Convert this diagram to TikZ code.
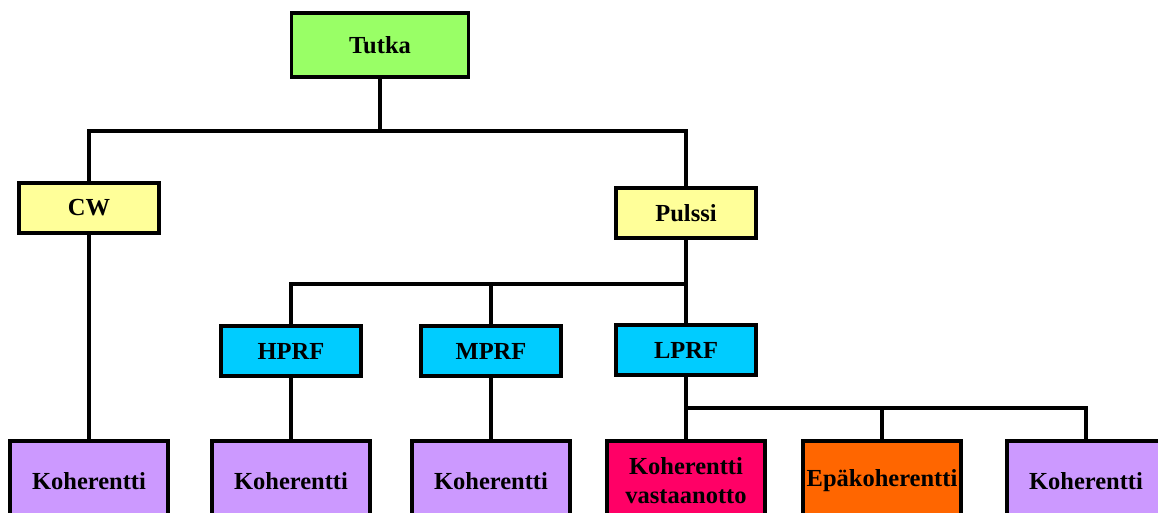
\documentclass[tikz,border=0pt]{standalone}
\usepackage{fontspec}
\setmainfont{Liberation Serif}
\usepackage{tikz}
\usetikzlibrary{positioning}

\definecolor{tutkagreen}{HTML}{99FF66}
\definecolor{lightyellow}{HTML}{FFFF99}
\definecolor{prfcyan}{HTML}{00CCFF}
\definecolor{lilac}{HTML}{CC99FF}
\definecolor{hotpink}{HTML}{FF0066}
\definecolor{deeporange}{HTML}{FF6600}

\begin{document}
\begin{tikzpicture}[x=1pt,y=-1pt, line width=3.5pt, box/.style={draw,align=center,inner sep=0pt,minimum width=140pt,minimum height=50pt,font=\fontsize{24.5}{29}\selectfont\bfseries}, leaf/.style={box,fill=lilac,minimum width=158pt,minimum height=80pt}, link/.style={draw,line width=3.5pt}]
\useasboundingbox (0,0) rectangle (1158,512);
\clip (0,0) rectangle (1158,512);
\node[box,fill=tutkagreen,minimum width=177pt,minimum height=64pt] (tutka) at (380,45) {Tutka};
\node[box,fill=lightyellow] (cw) at (89,208) {CW};
\node[box,fill=lightyellow] (pulssi) at (686,213) {Pulssi};
\node[box,fill=prfcyan] (hprf) at (291,351) {HPRF};
\node[box,fill=prfcyan] (mprf) at (491,351) {MPRF};
\node[box,fill=prfcyan] (lprf) at (686,350) {LPRF};
\node[leaf] (koh1) at (89,481) {Koherentti};
\node[leaf] (koh2) at (291,481) {Koherentti};
\node[leaf] (koh3) at (491,481) {Koherentti};
\node[leaf,fill=hotpink] (kohva) at (686,481) {Koherentti\\vastaanotto};
\node[leaf,fill=deeporange] (epakoh) at (882,481) {Epäkoherentti};
\node[leaf] (koh6) at (1086,481) {Koherentti};
% junctions of the tree
\coordinate (j1) at (380,131);
\coordinate (j2) at (686,284);
\coordinate (j3) at (686,408);
\draw[link] (tutka) -- (j1) -| (cw);
\draw[link] (j1) -| (pulssi);
\draw[link] (cw) -- (koh1);
\draw[link] (pulssi) -- (j2) -| (hprf);
\draw[link] (j2) -| (mprf);
\draw[link] (j2) -- (lprf);
\draw[link] (hprf) -- (koh2);
\draw[link] (mprf) -- (koh3);
\draw[link] (lprf) -- (j3) -- (kohva);
\draw[link] (j3) -| (epakoh);
\draw[link] (j3) -| (koh6);
\end{tikzpicture}
\end{document}
